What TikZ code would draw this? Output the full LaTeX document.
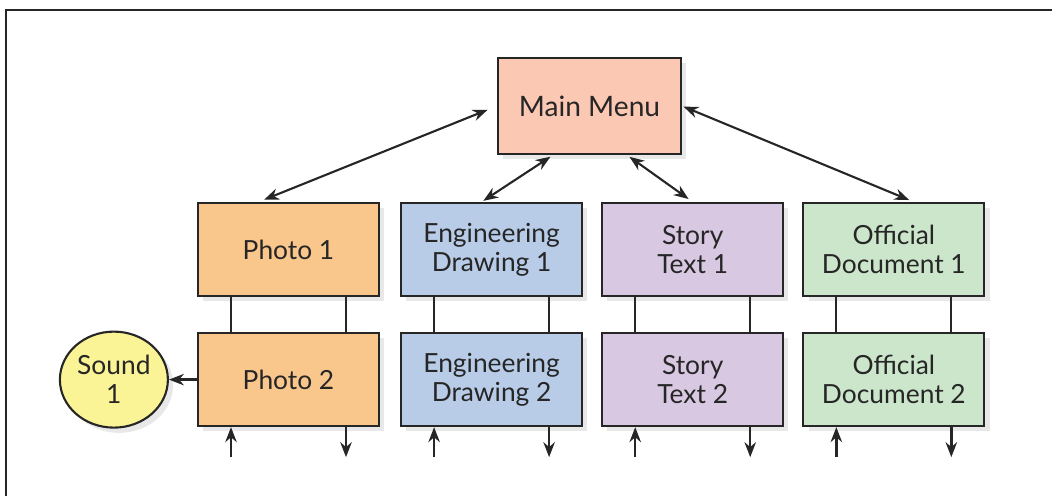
\documentclass[tikz,border=0pt]{standalone}
\usepackage{fontspec}
\setmainfont{Lato}
\usetikzlibrary{arrows.meta,positioning,shadows,calc,shapes.geometric}
\definecolor{Ink}{HTML}{262626}
\definecolor{MenuPink}{HTML}{FBC8B4}
\definecolor{PhotoOrange}{HTML}{F9C68C}
\definecolor{EngBlue}{HTML}{B8CCE8}
\definecolor{StoryLilac}{HTML}{D8C8E2}
\definecolor{DocGreen}{HTML}{CCE6CC}
\definecolor{SoundYellow}{HTML}{FAF496}
\tikzset{
  pagebox/.style={
    rectangle, draw=Ink, line width=1.2pt, text=Ink,
    minimum width=3.62cm, minimum height=1.86cm, align=center,
    font=\fontsize{15}{16.5}\selectfont,
    drop shadow={shadow xshift=3pt, shadow yshift=-3pt, opacity=.18}
  },
  soundbox/.style={
    ellipse, draw=Ink, line width=1.2pt, text=Ink, fill=SoundYellow,
    minimum width=2.16cm, minimum height=1.92cm, inner sep=0pt, align=center,
    font=\fontsize{15}{16.5}\selectfont,
    drop shadow={shadow xshift=3pt, shadow yshift=-3pt, opacity=.18}
  },
  linkarrow/.style={{Stealth[length=8.5pt,width=6.5pt]}-{Stealth[length=8.5pt,width=6.5pt]}, Ink, line width=1.2pt},
  onearrow/.style={-{Stealth[length=8.5pt,width=6.5pt]}, Ink, line width=1.4pt},
  pagelink/.style={Ink, line width=1pt},
}

\begin{document}
\begin{tikzpicture}
    \useasboundingbox (0,0) rectangle (21.04,-9.92);
    \draw[Ink, line width=1.3pt] (0.12,-9.92) -- (0.12,-0.2) -- (21.04,-0.2);

    % first row of pages
    \node[pagebox, fill=PhotoOrange] (p1) at (5.77,-4.99) {Photo 1};
    \node[pagebox, fill=EngBlue, right=0.4cm of p1] (e1) {Engineering\\Drawing 1};
    \node[pagebox, fill=StoryLilac, right=0.36cm of e1] (s1) {Story\\Text 1};
    \node[pagebox, fill=DocGreen, right=0.36cm of s1] (d1) {Official\\Document 1};

    % second row of pages
    \node[pagebox, fill=PhotoOrange, below=0.7cm of p1] (p2) {Photo 2};
    \node[pagebox, fill=EngBlue, below=0.7cm of e1] (e2) {Engineering\\Drawing 2};
    \node[pagebox, fill=StoryLilac, below=0.7cm of s1] (s2) {Story\\Text 2};
    \node[pagebox, fill=DocGreen, below=0.7cm of d1] (d2) {Official\\Document 2};

    \node[soundbox, left=0.56cm of p2] (snd) {Sound\\1};

    % main menu on top
    \node[pagebox, fill=MenuPink, minimum width=3.66cm, minimum height=1.92cm,
          font=\fontsize{16}{18}\selectfont] (menu) at (11.79,-2.12) {Main Menu};

    \draw[linkarrow, shorten <=0.2cm, shorten >=0.12cm] (menu.west) -- ([xshift=-0.6cm]p1.north);
    \draw[linkarrow, shorten <=0.03cm, shorten >=0.1cm] (menu.east) -- ([xshift=0.4cm]d1.north);
    \draw[linkarrow, shorten <=0.06cm, shorten >=0.04cm] ([xshift=-0.73cm]menu.south) -- ([xshift=-0.2cm]e1.north);
    \draw[linkarrow, shorten <=0.06cm, shorten >=0.1cm] ([xshift=0.75cm]menu.south) -- (s1.north);

    \draw[onearrow] (p2.west) -- (snd.east);

    % links between the rows and loose ends below
    \foreach \top/\bot in {p1/p2, e1/e2, s1/s2, d1/d2} {
      \draw[pagelink] ([xshift=-1.15cm]\top.south) -- ([xshift=-1.15cm]\bot.north);
      \draw[pagelink] ([xshift=1.15cm]\top.south) -- ([xshift=1.15cm]\bot.north);
      \coordinate (\bot-in) at ([xshift=-1.15cm,yshift=-0.6cm]\bot.south);
      \coordinate (\bot-out) at ([xshift=1.15cm,yshift=-0.6cm]\bot.south);
      \draw[onearrow] (\bot-in) -- ([xshift=-1.15cm]\bot.south);
      \draw[onearrow] ([xshift=1.15cm]\bot.south) -- (\bot-out);
    }
  \end{tikzpicture}
\end{document}
